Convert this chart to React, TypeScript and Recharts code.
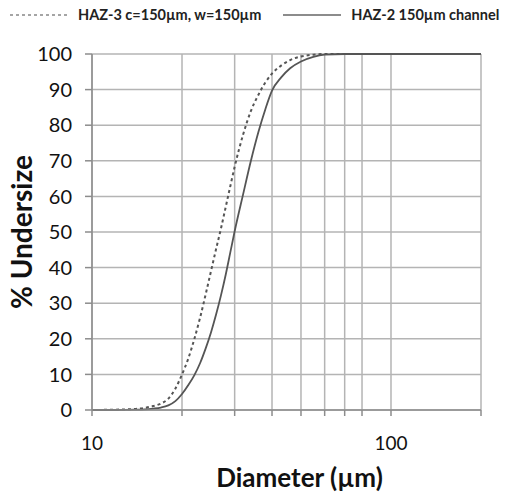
import { CartesianGrid, Line, LineChart, XAxis, YAxis } from "recharts"

// particle size distribution, cumulative % undersize vs diameter (µm)
const diameters = [10, 12, 14, 15, 16, 17, 18, 19, 20, 21, 22, 23, 24, 25, 26, 27, 28, 29, 30, 32, 34, 36, 38, 40, 43, 46, 50, 55, 60, 70, 80, 100, 150, 200]
const haz3 = [0, 0.1, 0.3, 0.6, 1.1, 1.8, 3.2, 6, 10, 14.5, 20, 26, 32.5, 39, 45.2, 51, 57, 62.8, 68.3, 77.3, 84, 88.5, 92, 94.5, 96.8, 98.3, 99.3, 99.8, 100, 100, 100, 100, 100, 100]
const haz2 = [0, 0, 0.1, 0.2, 0.4, 0.7, 1.3, 2.5, 4.5, 7, 9.8, 13.2, 17.3, 21.8, 26.8, 32.2, 38, 44.2, 50.2, 60.5, 70, 78, 84.5, 89.7, 93.5, 96, 97.9, 99.2, 99.8, 100, 100, 100, 100, 100]

const xTicks = [10, 20, 30, 40, 50, 60, 70, 80, 90, 100, 200]
const xLabels = [10, 100]
const yTicks = [0, 10, 20, 30, 40, 50, 60, 70, 80, 90, 100]

const data = diameters.map((d, i) => ({ d, haz3: haz3[i], haz2: haz2[i] }))

const FONT = "Lato, 'DejaVu Sans', sans-serif"
const GRID = "#b4b4b4"
const AXIS = "#8c8c8c"
const CURVE = "#555555"

function LegendBar() {
  return (
    <div
      style={{
        position: "absolute",
        top: 0,
        left: 0,
        width: 506,
        height: 29,
        fontFamily: FONT,
        fontWeight: 700,
        fontSize: 14.5,
        color: "#222",
        display: "flex",
        alignItems: "center",
        whiteSpace: "nowrap",
        zIndex: 1,
      }}
    >
      <svg width={60} height={4} style={{ marginLeft: 10 }}>
        <line x1={0} y1={2} x2={60} y2={2} stroke="#888" strokeWidth={1.5} strokeDasharray="3 3" />
      </svg>
      <span style={{ marginLeft: 8 }}>HAZ-3 c=150µm, w=150µm</span>
      <svg width={58} height={4} style={{ marginLeft: 22 }}>
        <line x1={0} y1={2} x2={58} y2={2} stroke="#666" strokeWidth={1.5} />
      </svg>
      <span style={{ marginLeft: 10 }}>HAZ-2 150µm channel</span>
    </div>
  )
}

export default function App() {
  return (
    <div style={{ position: "absolute", left: 0, top: 0, width: 506, height: 495, background: "#fff" }}>
      <LegendBar />
      <div style={{ position: "absolute", left: 0, top: 0 }}>
        <LineChart width={506} height={495} data={data} margin={{ top: 54, right: 25, bottom: 0, left: 0 }}>
          <CartesianGrid stroke={GRID} strokeWidth={1.5} verticalValues={xTicks} horizontalValues={yTicks} />
          <XAxis
            dataKey="d"
            type="number"
            scale="log"
            domain={[10, 200]}
            ticks={xTicks}
            allowDataOverflow
            height={85}
            stroke={AXIS}
            strokeWidth={1.5}
            tickSize={6}
            tickMargin={21}
            tick={{ fill: "#111", fontSize: 19, fontFamily: FONT }}
            tickFormatter={(v: number) => (xLabels.includes(v) ? String(v) : "")}
            label={{
              value: "Diameter (µm)",
              position: "insideBottom",
              offset: 8,
              dx: 13,
              fill: "#111",
              fontSize: 26,
              fontWeight: 700,
              fontFamily: FONT,
            }}
          />
          <YAxis
            type="number"
            domain={[0, 100]}
            ticks={yTicks}
            width={92}
            stroke={AXIS}
            strokeWidth={1.5}
            tickSize={7}
            tickMargin={13}
            tick={{ fill: "#111", fontSize: 20, fontFamily: FONT }}
            label={{
              value: "% Undersize",
              angle: -90,
              position: "insideLeft",
              offset: 22,
              style: { textAnchor: "middle" },
              fill: "#111",
              fontSize: 28,
              fontWeight: 700,
              fontFamily: FONT,
            }}
          />
          <Line
            type="monotone"
            dataKey="haz3"
            stroke={CURVE}
            strokeWidth={2}
            strokeDasharray="3 3"
            dot={false}
            isAnimationActive={false}
          />
          <Line
            type="monotone"
            dataKey="haz2"
            stroke={CURVE}
            strokeWidth={1.8}
            dot={false}
            isAnimationActive={false}
          />
        </LineChart>
      </div>
    </div>
  )
}
